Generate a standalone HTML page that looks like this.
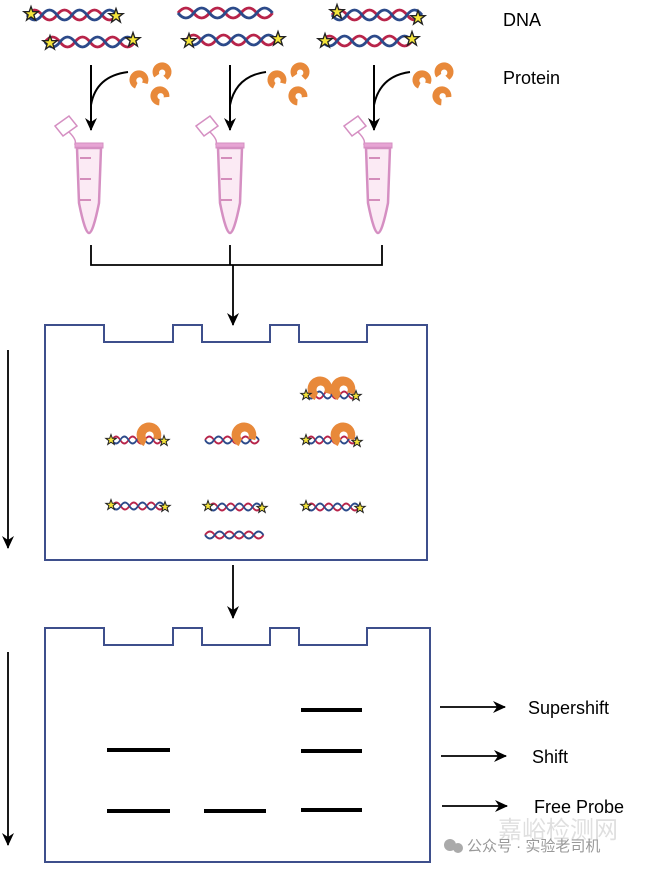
<!DOCTYPE html>
<html><head><meta charset="utf-8"><style>
html,body{margin:0;padding:0;background:#fff}
svg{display:block}
text{font-family:"Liberation Sans","Noto Sans CJK SC",sans-serif}
</style></head><body>
<svg width="650" height="869" viewBox="0 0 650 869" xmlns="http://www.w3.org/2000/svg">
<defs>
<marker id="ahb" markerWidth="14" markerHeight="14" refX="12" refY="7" orient="auto" markerUnits="userSpaceOnUse"><path d="M0,1 L13,7 L0,13 L4,7 Z" fill="#000"/></marker>
<g id="helix">
<path d="M0,0 Q7.5,-10 15,0 T30,0 T45,0 T60,0 T75,0 T90,0" fill="none" stroke="#b8244a" stroke-width="2.8"/>
<path d="M0,0 Q7.5,10 15,0 T30,0 T45,0 T60,0 T75,0 T90,0" fill="none" stroke="#2c4a8a" stroke-width="2.8"/>
</g>
<polygon id="star" points="0,-1 0.235,-0.324 0.951,-0.309 0.38,0.124 0.588,0.809 0,0.4 -0.588,0.809 -0.38,0.124 -0.951,-0.309 -0.235,-0.324" fill="#f5e53a" stroke="#222" stroke-width="0.18"/>
<g id="prot">
<path d="M-4,8.5 A9.5,9.5 0 1 1 8.5,4 L3,2.5 A3.2,3.2 0 1 0 -1.5,3 Z" fill="#e8893a"/>
</g>
<g id="tube">
<path d="M-34,-22 L-20,-32 L-12,-22 L-26,-12 Z" fill="#fff" stroke="#d58fc2" stroke-width="1.5"/>
<path d="M-20,-16 Q-12,-8 -14,-4 L-12,-3" fill="none" stroke="#d58fc2" stroke-width="1.5"/>
<rect x="-14" y="-5" width="28" height="5" fill="#e7a4d4" stroke="#d58fc2"/>
<path d="M-12,0 L12,0 L10,55 Q4,85 0,85 Q-4,85 -10,55 Z" fill="#fbeaf4" stroke="#d58fc2" stroke-width="2.5"/>
<path d="M-9,10 L2,10 M-9,31 L2,31 M-9,52 L2,52" stroke="#c870a8" stroke-width="1.5"/>
</g>
</defs>

<g transform="translate(27,15)"><use href="#helix"/></g>
<use href="#star" transform="translate(31,14) scale(7.5)"/><use href="#star" transform="translate(116,16) scale(7.5)"/>
<g transform="translate(45,42)"><use href="#helix"/></g>
<use href="#star" transform="translate(50,43) scale(7.5)"/><use href="#star" transform="translate(133,40) scale(7.5)"/>
<g transform="translate(178,13)"><use href="#helix" transform="scale(1.05,1)"/></g>
<g transform="translate(186,40)"><use href="#helix"/></g>
<use href="#star" transform="translate(189,41) scale(7.5)"/><use href="#star" transform="translate(278,39) scale(7.5)"/>
<g transform="translate(332,15)"><use href="#helix"/></g>
<use href="#star" transform="translate(337,12) scale(7.5)"/><use href="#star" transform="translate(418,18) scale(7.5)"/>
<g transform="translate(322,41)"><use href="#helix"/></g>
<use href="#star" transform="translate(325,41) scale(7.5)"/><use href="#star" transform="translate(412,39) scale(7.5)"/>

<text x="503" y="26" font-size="18">DNA</text>
<text x="503" y="84" font-size="18">Protein</text>

<g stroke="#000" stroke-width="2" fill="none">
<path d="M91,65 L91,130" marker-end="url(#ahb)"/>
<path d="M128,72 Q96,76 91,105"/>
<path d="M230,65 L230,130" marker-end="url(#ahb)"/>
<path d="M266,72 Q236,76 230,105"/>
<path d="M374,65 L374,130" marker-end="url(#ahb)"/>
<path d="M410,72 Q380,76 374,105"/>
</g>
<use href="#prot" transform="translate(139,80)"/><use href="#prot" transform="translate(162,72) rotate(30)"/><use href="#prot" transform="translate(160,96) rotate(-20)"/>
<use href="#prot" transform="translate(277,80)"/><use href="#prot" transform="translate(300,72) rotate(30)"/><use href="#prot" transform="translate(298,96) rotate(-20)"/>
<use href="#prot" transform="translate(422,80)"/><use href="#prot" transform="translate(444,72) rotate(30)"/><use href="#prot" transform="translate(442,96) rotate(-20)"/>

<use href="#tube" transform="translate(89,148)"/>
<use href="#tube" transform="translate(230,148)"/>
<use href="#tube" transform="translate(378,148)"/>

<g stroke="#000" stroke-width="1.8" fill="none">
<path d="M91,245 L91,265 L382,265 L382,245 M230,245 L230,265"/>
<path d="M233,265 L233,325" marker-end="url(#ahb)"/>
<path d="M8,350 L8,548" marker-end="url(#ahb)"/>
<path d="M233,565 L233,618" marker-end="url(#ahb)"/>
<path d="M8,652 L8,845" marker-end="url(#ahb)"/>
<path d="M440,707 L505,707" marker-end="url(#ahb)"/>
<path d="M441,756 L506,756" marker-end="url(#ahb)"/>
<path d="M442,806 L507,806" marker-end="url(#ahb)"/>
</g>

<g stroke="#3e4f8c" stroke-width="2" fill="none">
<path d="M45,560 L45,325 L104,325 L104,342 L173,342 L173,325 L202,325 L202,342 L270,342 L270,325 L299,325 L299,342 L367,342 L367,325 L427,325 L427,560 Z"/>
<path d="M45,862 L45,628 L104,628 L104,645 L173,645 L173,628 L202,628 L202,645 L270,645 L270,628 L299,628 L299,645 L367,645 L367,628 L430,628 L430,862 Z"/>
</g>

<g transform="translate(307,395) scale(0.55,0.7)"><use href="#helix"/></g>
<use href="#prot" transform="translate(320,389) scale(1.3)"/><use href="#prot" transform="translate(343,389) scale(1.3)"/>
<use href="#star" transform="translate(306,395) scale(5.5)"/><use href="#star" transform="translate(356,396) scale(5.5)"/>

<g transform="translate(112,440) scale(0.55,0.7)"><use href="#helix"/></g>
<use href="#prot" transform="translate(149,435) scale(1.3)"/>
<use href="#star" transform="translate(111,440) scale(5.5)"/><use href="#star" transform="translate(164,441) scale(5.5)"/>
<g transform="translate(205,440) scale(0.6,0.7)"><use href="#helix"/></g>
<use href="#prot" transform="translate(244,435) scale(1.3)"/>
<g transform="translate(307,440) scale(0.55,0.7)"><use href="#helix"/></g>
<use href="#prot" transform="translate(343,435) scale(1.3)"/>
<use href="#star" transform="translate(306,440) scale(5.5)"/><use href="#star" transform="translate(357,442) scale(5.5)"/>

<g transform="translate(112,506) scale(0.58,0.7)"><use href="#helix"/></g>
<use href="#star" transform="translate(111,505) scale(5.5)"/><use href="#star" transform="translate(165,507) scale(5.5)"/>
<g transform="translate(209,507) scale(0.58,0.7)"><use href="#helix"/></g>
<use href="#star" transform="translate(208,506) scale(5.5)"/><use href="#star" transform="translate(262,508) scale(5.5)"/>
<g transform="translate(307,507) scale(0.58,0.7)"><use href="#helix"/></g>
<use href="#star" transform="translate(306,506) scale(5.5)"/><use href="#star" transform="translate(360,508) scale(5.5)"/>
<g transform="translate(205,535) scale(0.65,0.7)"><use href="#helix"/></g>

<g stroke="#000" stroke-width="4">
<path d="M301,710 L362,710"/>
<path d="M107,750 L170,750 M301,751 L362,751"/>
<path d="M107,811 L170,811 M204,811 L266,811 M301,810 L362,810"/>
</g>

<text x="528" y="714" font-size="18">Supershift</text>
<text x="532" y="763" font-size="18">Shift</text>
<text x="534" y="813" font-size="18">Free Probe</text>

<text x="498" y="838" font-size="24" fill="#d8d8d8" opacity="0.8">嘉峪检测网</text>
<circle cx="450" cy="845" r="6" fill="#aaa"/><circle cx="458" cy="848" r="5" fill="#aaa"/>
<text x="467" y="851" font-size="15" fill="#999">公众号 · 实验老司机</text>
</svg>
</body></html>
